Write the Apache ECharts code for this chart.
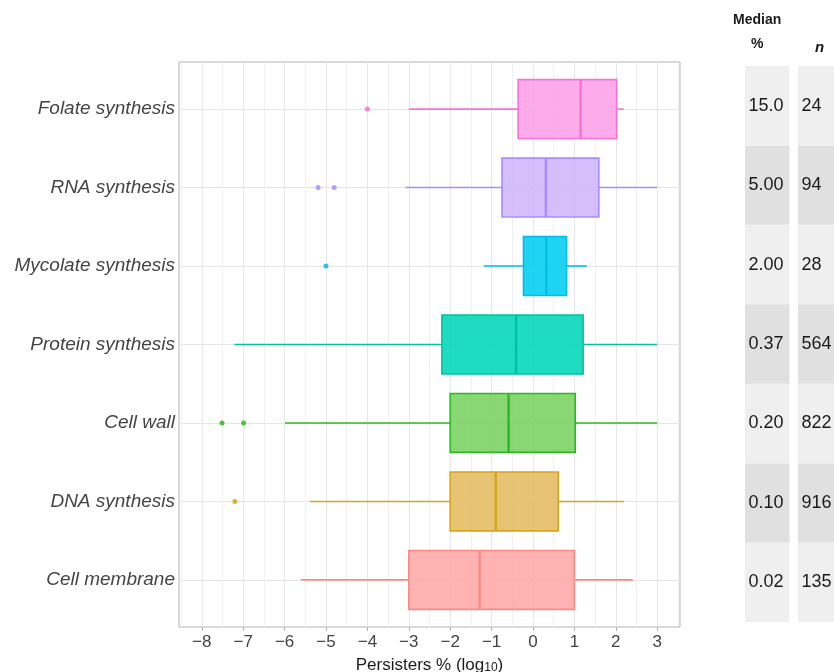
<!DOCTYPE html>
<html>
<head>
<meta charset="utf-8">
<script src="https://cdn.jsdelivr.net/npm/echarts@6/dist/echarts.min.js"></script>
<style>html,body{margin:0;padding:0;background:#fff}#c{width:834px;height:672px}</style>
</head>
<body>
<div id="c"></div>
<script>
// categories bottom -> top
const categories = ['Cell membrane','DNA synthesis','Cell wall','Protein synthesis','Mycolate synthesis','RNA synthesis','Folate synthesis'];
const lowWhisker  = [-5.60, -5.39, -5.99, -7.21, -1.19, -3.08, -3.00];
const q1Values    = [-3.00, -2.00, -2.00, -2.20, -0.23, -0.75, -0.36];
const medianValues= [-1.29, -0.90, -0.59, -0.41,  0.32,  0.31,  1.15];
const q3Values    = [ 1.00,  0.61,  1.02,  1.21,  0.81,  1.59,  2.02];
const highWhisker = [ 2.41,  2.20,  3.00,  3.00,  1.30,  3.00,  2.19];
const outliers = [[], [-7.2], [-7.51, -6.99], [], [-5.0], [-5.19, -4.80], [-4.0]];
const medianLabels = ['0.02','0.10','0.20','0.37','2.00','5.00','15.0'];
const nValues = [135, 916, 822, 564, 28, 94, 24];
const xTicks = [-8,-7,-6,-5,-4,-3,-2,-1,0,1,2,3];
const xMinorTicks = [-8.5,-7.5,-6.5,-5.5,-4.5,-3.5,-2.5,-1.5,-0.5,0.5,1.5,2.5,3.5];
const yPositions = [1,2,3,4,5,6,7];

const strokeColors = ['#fc8a85','#d6a41c','#2cb820','#00c2a0','#00bde9','#a98cff','#fb6fd9'];
const fillColors = ['rgba(255,165,164,0.85)','rgba(226,186,92,0.85)','rgba(116,208,92,0.85)',
  'rgba(0,214,186,0.88)','rgba(0,206,241,0.88)','rgba(204,180,250,0.85)','rgba(251,158,230,0.85)'];

const FONT = '"Liberation Sans", Arial, Helvetica, sans-serif';

const boxData = categories.map((c,i)=>[yPositions[i], lowWhisker[i], q1Values[i], medianValues[i], q3Values[i], highWhisker[i]]);
const outlierData = [];
outliers.forEach((arr,i)=>arr.forEach(v=>outlierData.push({value:[v, yPositions[i]], itemStyle:{color:strokeColors[i], opacity:0.85}})));
const medTable = medianLabels.map((t,i)=>[0, yPositions[i], t]);
const nTable = nValues.map((t,i)=>[0, yPositions[i], String(t)]);

function tableRender(params, api){
  const y = api.value(1);
  const label = params.seriesIndex === 2 ? medTable[params.dataIndex][2] : nTable[params.dataIndex][2];
  const tl = api.coord([0, y+0.5]);
  const br = api.coord([1, y-0.5]);
  const fill = (y % 2 === 1) ? '#efefef' : '#e0e0e0';
  return {type:'group', children:[
    {type:'rect', shape:{x:tl[0], y:tl[1], width:br[0]-tl[0], height:br[1]-tl[1]}, style:{fill:fill}},
    {type:'text', x:tl[0]+3.5, y:(tl[1]+br[1])/2, style:{text:label, fill:'#1a1a1a', font:'18px '+FONT, textAlign:'left', textVerticalAlign:'middle'}}
  ]};
}

const chart = echarts.init(document.getElementById('c'));
chart.setOption({
  backgroundColor:'#fff',
  animation:false,
  grid:[
    {left:179, right:154, top:62, bottom:45, show:true, borderColor:'#b3b3b3', borderWidth:1, backgroundColor:'transparent', outerBoundsMode:'none', containLabel:false},
    {left:745, width:44.5, top:66, bottom:50, outerBoundsMode:'none', containLabel:false},
    {left:798, right:0, top:66, bottom:50, outerBoundsMode:'none', containLabel:false}
  ],
  xAxis:[
    {type:'value', gridIndex:0, min:-8.55, max:3.55,
     axisLine:{show:false},
     axisTick:{show:true, customValues:xTicks, length:4, lineStyle:{color:'#b3b3b3'}},
     axisLabel:{customValues:xTicks, margin:7, color:'#444', fontSize:17, fontFamily:FONT,
       formatter:v=>String(v).replace('-','\u2212')},
     splitLine:{show:true, lineStyle:{color:'#e6e6e6', width:1}},
     name:'{a|Persisters % (log}{s|10}{a|)}', nameLocation:'middle', nameGap:24,
     nameTextStyle:{rich:{a:{fontSize:17, fontFamily:FONT, color:'#1a1a1a', lineHeight:20, verticalAlign:'bottom'},
                          s:{fontSize:12, fontFamily:FONT, color:'#1a1a1a', lineHeight:20, verticalAlign:'bottom', padding:[6,0,0,0]}}}
    },
    {type:'value', gridIndex:0, min:-8.55, max:3.55, show:true,
     axisLine:{show:false}, axisLabel:{show:false},
     axisTick:{show:false, customValues:xMinorTicks},
     splitLine:{show:true, lineStyle:{color:'#f0f0f0', width:1}}},
    {type:'value', gridIndex:1, min:0, max:1, show:false},
    {type:'value', gridIndex:2, min:0, max:1, show:false}
  ],
  yAxis:[
    {type:'value', gridIndex:0, min:0.4, max:7.6,
     axisLine:{show:false},
     axisTick:{show:true, customValues:yPositions, length:3, lineStyle:{color:'#b3b3b3'}},
     axisLabel:{customValues:yPositions, margin:4, color:'#444', fontSize:19, fontStyle:'italic', fontFamily:FONT,
       formatter:v=>categories[Math.round(v)-1] || ''},
     splitLine:{show:true, lineStyle:{color:'#e6e6e6', width:1}}},
    {type:'value', gridIndex:1, min:0.5, max:7.5, show:false},
    {type:'value', gridIndex:2, min:0.5, max:7.5, show:false}
  ],
  graphic:[
    {type:'text', left:733, top:13, style:{text:'Median', font:'bold 14px '+FONT, fill:'#1a1a1a'}},
    {type:'text', left:751, top:37, style:{text:'%', font:'bold 14px '+FONT, fill:'#1a1a1a'}},
    {type:'text', left:815, top:40, style:{text:'n', font:'italic bold 15px '+FONT, fill:'#1a1a1a'}}
  ],
  series:[
    {type:'custom', xAxisIndex:0, yAxisIndex:0, data:boxData,
     dimensions:['y','lo','q1','med','q3','hi'],
     encode:{x:[1,2,3,4,5], y:0},
     renderItem:function(params, api){
       const i = params.dataIndex;
       const y = api.value(0);
       const pLo = api.coord([api.value(1), y]);
       const pQ1 = api.coord([api.value(2), y]);
       const pMed = api.coord([api.value(3), y]);
       const pQ3 = api.coord([api.value(4), y]);
       const pHi = api.coord([api.value(5), y]);
       const h = api.size([0, 0.75])[1];
       const sc = strokeColors[i];
       return {type:'group', children:[
         {type:'line', shape:{x1:pLo[0], y1:pLo[1], x2:pQ1[0], y2:pQ1[1]}, style:{stroke:sc, lineWidth:1.6}},
         {type:'line', shape:{x1:pQ3[0], y1:pQ3[1], x2:pHi[0], y2:pHi[1]}, style:{stroke:sc, lineWidth:1.6}},
         {type:'rect', shape:{x:pQ1[0], y:pQ1[1]-h/2, width:pQ3[0]-pQ1[0], height:h}, style:{fill:fillColors[i], stroke:sc, lineWidth:1.6}},
         {type:'line', shape:{x1:pMed[0], y1:pMed[1]-h/2, x2:pMed[0], y2:pMed[1]+h/2}, style:{stroke:sc, lineWidth:2.4}}
       ]};
     }},
    {type:'scatter', xAxisIndex:0, yAxisIndex:0, data:outlierData, symbolSize:5},
    {type:'custom', xAxisIndex:2, yAxisIndex:1, data:medTable, dimensions:['x','y','t'], encode:{x:0, y:1}, renderItem:tableRender},
    {type:'custom', xAxisIndex:3, yAxisIndex:2, data:nTable, dimensions:['x','y','t'], encode:{x:0, y:1}, renderItem:tableRender}
  ]
});
</script>
</body>
</html>
